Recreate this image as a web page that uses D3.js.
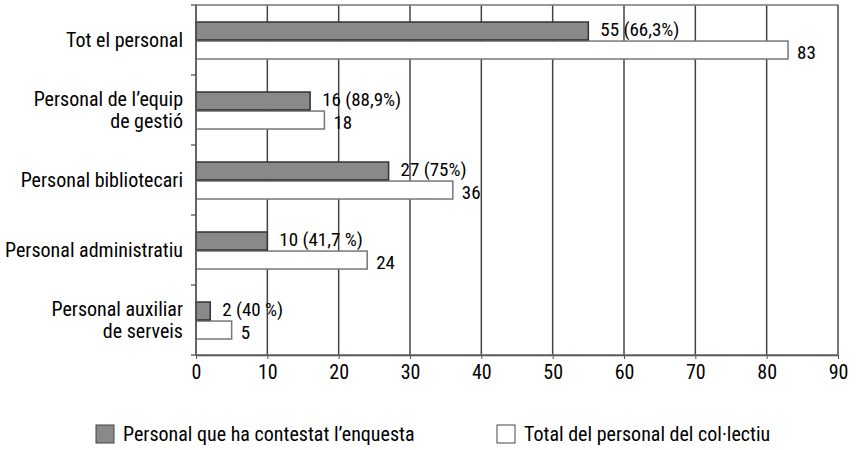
<!DOCTYPE html>
<html>
<head>
<meta charset="utf-8">
<script src="https://cdn.jsdelivr.net/npm/d3@7"></script>
<style>
  body { margin: 0; background: #fff; }
  svg text { font-family: "Liberation Sans Narrow", "Roboto Condensed", "Arial Narrow", "Liberation Sans", sans-serif; fill: #000; }
</style>
</head>
<body>
<script>
// Data
const categories = ["Tot el personal", "Personal de l’equip\nde gestió", "Personal bibliotecari",
                    "Personal administratiu", "Personal auxiliar\nde serveis"];
const answered = [55, 16, 27, 10, 2];
const answeredLabels = ["55 (66,3%)", "16 (88,9%)", "27 (75%)", "10 (41,7 %)", "2 (40 %)"];
const totals = [83, 18, 36, 24, 5];
const totalLabels = ["83", "18", "36", "24", "5"];
const xTicks = [0, 10, 20, 30, 40, 50, 60, 70, 80, 90];
const seriesNames = ["Personal que ha contestat l’enquesta", "Total del personal del col·lectiu"];

let margin = null, width = null, height = null;
let svg = null;
let x, y, ySub = null;

setupCanvasSize();
appendSvg("body");
setupScales();
appendGrid();
appendBars();
appendAxes();
appendLegend();

function setupCanvasSize() {
  margin = {top: 5, left: 196, bottom: 95, right: 25};
  width = 863 - margin.left - margin.right;
  height = 450 - margin.top - margin.bottom;
}

function appendSvg(domElement) {
  svg = d3.select(domElement).append("svg")
    .attr("width", width + margin.left + margin.right)
    .attr("height", height + margin.top + margin.bottom)
    .append("g")
    .attr("transform", `translate(${margin.left}, ${margin.top})`);
}

function setupScales() {
  x = d3.scaleLinear().domain([0, 90]).range([0, width]);
  y = d3.scaleBand().domain(categories).range([0, height]);
  ySub = d3.scaleBand().domain(["answered", "total"])
    .range([y.bandwidth() / 2 - 18, y.bandwidth() / 2 + 19]).paddingInner(0.06);
}

function appendGrid() {
  svg.append("g").selectAll("line")
    .data(xTicks.slice(1))
    .enter().append("line")
    .attr("x1", d => x(d)).attr("x2", d => x(d))
    .attr("y1", 0).attr("y2", height)
    .attr("stroke", "#444").attr("stroke-width", 1.5);

  svg.append("rect")
    .attr("x", 0).attr("y", 0)
    .attr("width", width).attr("height", height)
    .attr("fill", "none").attr("stroke", "#777").attr("stroke-width", 1.5);
}

function appendBars() {
  const rows = categories.map((c, i) => ({cat: c, a: answered[i], t: totals[i], al: answeredLabels[i], tl: totalLabels[i]}));
  const g = svg.selectAll(".row").data(rows).enter().append("g")
    .attr("class", "row")
    .attr("transform", d => `translate(0, ${y(d.cat)})`);

  g.append("rect")
    .attr("x", 0).attr("y", ySub("total"))
    .attr("width", d => x(d.t)).attr("height", ySub.bandwidth())
    .attr("fill", "#fff").attr("stroke", "#777").attr("stroke-width", 1.5);

  g.append("rect")
    .attr("x", 0).attr("y", ySub("answered"))
    .attr("width", d => x(d.a)).attr("height", ySub.bandwidth())
    .attr("fill", "#898989").attr("stroke", "#333").attr("stroke-width", 1.5);

  g.append("text")
    .attr("x", d => x(d.a) + 12)
    .attr("y", ySub("answered") + ySub.bandwidth() / 2 - 2)
    .attr("dy", "0.35em")
    .style("font-size", "19px")
    .text(d => d.al);

  g.append("text")
    .attr("x", d => x(d.t) + 9)
    .attr("y", ySub("total") + ySub.bandwidth() / 2 + 2)
    .attr("dy", "0.35em")
    .style("font-size", "19px")
    .text(d => d.tl);
}

function appendAxes() {
  const xAxis = svg.append("g")
    .attr("transform", `translate(0, ${height})`)
    .call(d3.axisBottom(x).tickValues(xTicks).tickSize(4).tickPadding(6).tickSizeOuter(0));
  xAxis.select(".domain").attr("stroke", "#555").attr("stroke-width", 1.5);
  xAxis.selectAll(".tick line").attr("stroke", "#555");
  xAxis.selectAll("text").style("font-size", "20px").attr("fill", "#000");

  // category ticks sit on band boundaries
  const bounds = categories.map(c => y(c)).concat([height]);
  svg.append("g").selectAll("line")
    .data(bounds)
    .enter().append("line")
    .attr("x1", -5).attr("x2", 0)
    .attr("y1", d => d).attr("y2", d => d)
    .attr("stroke", "#555").attr("stroke-width", 1.3);
  svg.append("line")
    .attr("x1", 0).attr("x2", 0).attr("y1", 0).attr("y2", height)
    .attr("stroke", "#555").attr("stroke-width", 1.5);

  const labels = svg.append("g").selectAll("text")
    .data(categories)
    .enter().append("text")
    .attr("text-anchor", "end")
    .style("font-size", "20px")
    .attr("transform", d => `translate(-13, ${y(d) + y.bandwidth() / 2})`);
  labels.each(function(d) {
    const lines = d.split("\n");
    const t = d3.select(this);
    lines.forEach((ln, i) => {
      t.append("tspan")
        .attr("x", 0)
        .attr("y", (i - (lines.length - 1) / 2) * 22)
        .attr("dy", "0.35em")
        .text(ln);
    });
  });
}

function appendLegend() {
  const fills = ["#898989", "#fff"];
  const strokes = ["#444", "#444"];
  const xs = [96 - margin.left, 497 - margin.left];
  const legend = svg.selectAll(".legend")
    .data(seriesNames)
    .enter().append("g")
    .attr("class", "legend")
    .attr("transform", (d, i) => `translate(${xs[i]}, ${425 - margin.top})`);
  legend.append("rect")
    .attr("width", 18).attr("height", 18)
    .attr("fill", (d, i) => fills[i])
    .attr("stroke", (d, i) => strokes[i]);
  legend.append("text")
    .attr("x", 27).attr("y", 9)
    .attr("dy", "0.35em")
    .style("font-size", "20px")
    .text(d => d);
}
</script>
</body>
</html>
